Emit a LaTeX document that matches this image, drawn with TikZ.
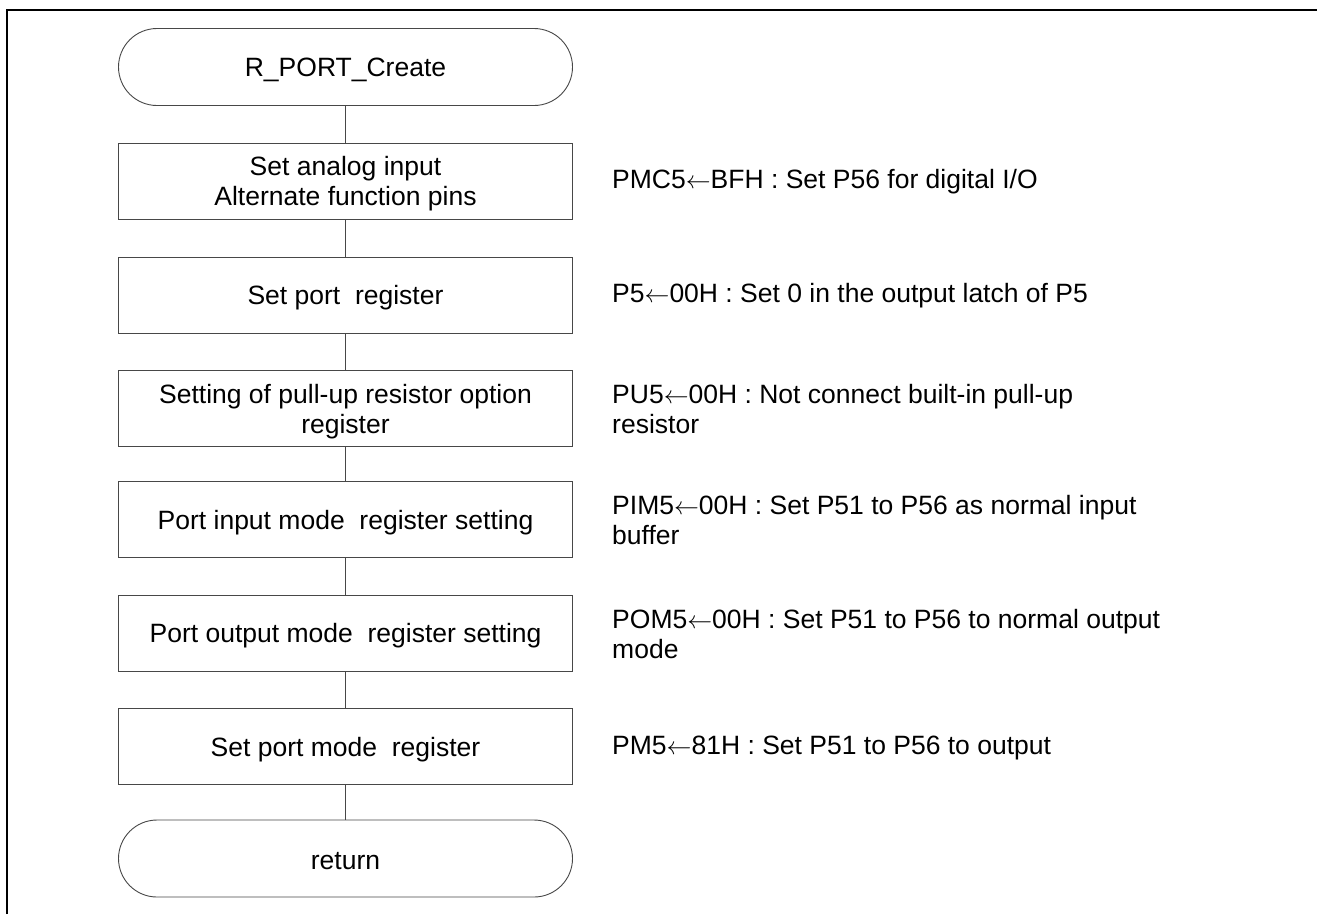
\documentclass[tikz,border=0pt]{standalone}
\usepackage{fontspec}
\setmainfont{Liberation Sans}
\newcommand{\larr}{\ensuremath{\leftarrow}}
\begin{document}
\begin{tikzpicture}[x=1pt,y=-1pt,
  every node/.style={font=\fontsize{26.5}{30}\selectfont, text=black},
  procbox/.style={draw=black!72, line width=0.9pt, fill=white, minimum width=454pt, minimum height=76pt, inner sep=0pt},
  termbox/.style={draw=black!72, line width=0.9pt, fill=white, rounded corners=38.5pt, minimum width=454pt, minimum height=77pt, inner sep=0pt},
  boxtext/.style={align=center, inner sep=0pt},
  desc/.style={anchor=west, align=left, inner sep=0pt},
  link/.style={draw=black!72, line width=0.9pt}]
\useasboundingbox (0,0) rectangle (1317,914);
\draw[line width=2.2pt] (7,914) -- (7,10) -- (1317,10);

\node[termbox] (t1) at (345.5,67) {};
\node[procbox] (b1) at (345.5,181) {};
\node[procbox] (b2) at (345.5,295) {};
\node[procbox] (b3) at (345.5,408.5) {};
\node[procbox] (b4) at (345.5,519.5) {};
\node[procbox] (b5) at (345.5,633) {};
\node[procbox] (b6) at (345.5,746.5) {};
\node[termbox] (t2) at (345.5,858.5) {};

\node[boxtext] (t1t) at ([yshift=-3pt]t1.center) {R\_PORT\_Create};
\node[boxtext] (b1t) at ([yshift=-3pt]b1.center) {Set analog input\\Alternate function pins};
\node[boxtext] (b2t) at ([yshift=-3pt]b2.center) {Set port\ \ register};
\node[boxtext] (b3t) at ([yshift=-3pt]b3.center) {Setting of pull-up resistor option\\register};
\node[boxtext] (b4t) at ([yshift=-3pt]b4.center) {Port input mode\ \ register setting};
\node[boxtext] (b5t) at ([yshift=-3pt]b5.center) {Port output mode\ \ register setting};
\node[boxtext] (b6t) at ([yshift=-3pt]b6.center) {Set port mode\ \ register};
\node[boxtext] (t2t) at ([yshift=-3pt]t2.center) {return};

\path[link] (t1) -- (b1);
\path[link] (b1) -- (b2);
\path[link] (b2) -- (b3);
\path[link] (b3) -- (b4);
\path[link] (b4) -- (b5);
\path[link] (b5) -- (b6);
\path[link] (b6) -- (t2);

\node[desc] (d1) at (612,182) {PMC5\larr BFH : Set P56 for digital I/O};
\node[desc] (d2) at (612,296) {P5\larr 00H : Set 0 in the output latch of P5};
\node[desc] (d3) at (612,409.5) {PU5\larr 00H : Not connect built-in pull-up\\resistor};
\node[desc] (d4) at (612,520.5) {PIM5\larr 00H : Set P51 to P56 as normal input\\buffer};
\node[desc] (d5) at (612,634) {POM5\larr 00H : Set P51 to P56 to normal output\\mode};
\node[desc] (d6) at (612,747.5) {PM5\larr 81H : Set P51 to P56 to output};
\end{tikzpicture}
\end{document}
